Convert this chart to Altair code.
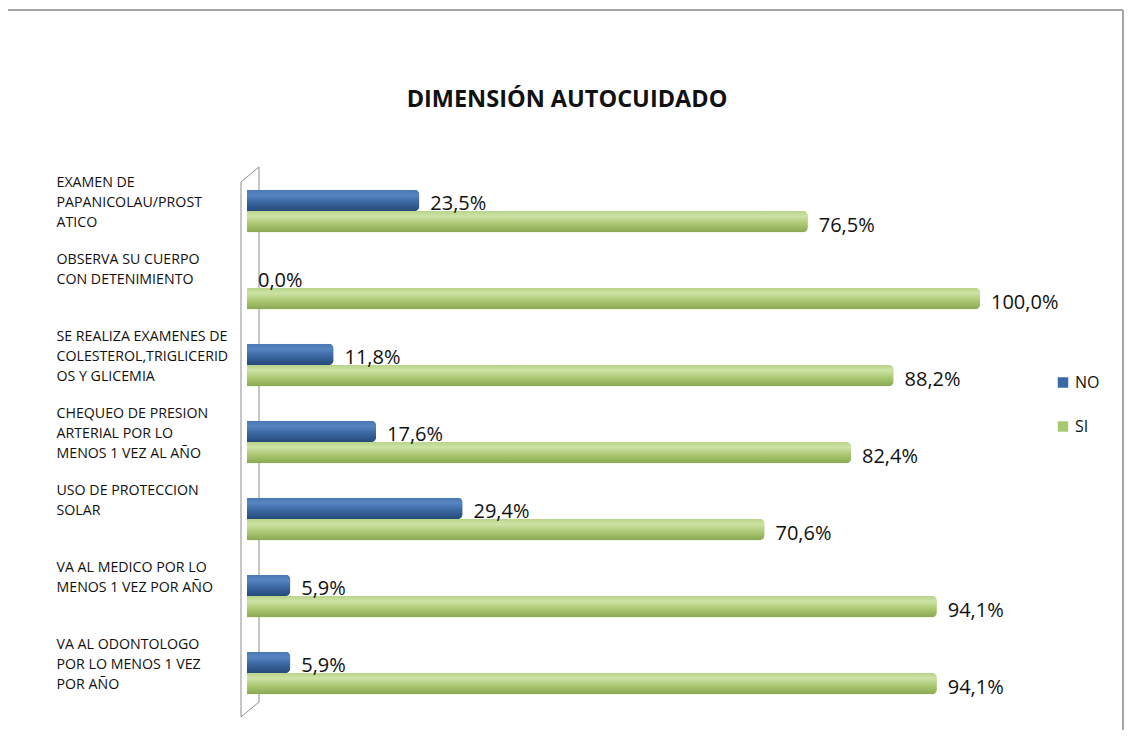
import altair as alt
import pandas as pd

titulo = "DIMENSIÓN AUTOCUIDADO"
categorias = [
    "EXAMEN DE\nPAPANICOLAU/PROST\nATICO",
    "OBSERVA SU CUERPO\nCON DETENIMIENTO",
    "SE REALIZA EXAMENES DE\nCOLESTEROL,TRIGLICERID\nOS Y GLICEMIA",
    "CHEQUEO DE PRESION\nARTERIAL POR LO\nMENOS 1 VEZ AL AÑO",
    "USO  DE  PROTECCION\nSOLAR",
    "VA AL MEDICO POR LO\nMENOS 1 VEZ POR AÑO",
    "VA AL ODONTOLOGO\nPOR LO MENOS 1 VEZ\nPOR AÑO",
]
series = ["NO", "SI"]
valores_no = [23.5, 0.0, 11.8, 17.6, 29.4, 5.9, 5.9]
valores_si = [76.5, 100.0, 88.2, 82.4, 70.6, 94.1, 94.1]

rows = []
for c, n, s in zip(categorias, valores_no, valores_si):
    rows.append({"cat": c, "serie": "NO", "v": n})
    rows.append({"cat": c, "serie": "SI", "v": s})
df = pd.DataFrame(rows)

FONT = "Open Sans"
W, H = 733, 539

y_enc = alt.Y(
    "cat:N",
    sort=categorias,
    scale=alt.Scale(paddingInner=0.45, paddingOuter=0.225),
    axis=alt.Axis(
        title=None, domain=False, ticks=False, grid=False,
        labelExpr="split(datum.label, '\\n')",
        labelAlign="left", labelBaseline="middle", labelPadding=191,
        labelLimit=260, labelFont=FONT, labelFontSize=14.2,
        labelLineHeight=20, labelOffset=-28, labelColor="#111111",
    ),
)
x_enc = alt.X("v:Q", scale=alt.Scale(domain=[0, 100]), axis=None)
yoff = alt.YOffset("serie:N", scale=alt.Scale(domain=series))

base = alt.Chart(df)

solid = base.mark_bar(cornerRadiusEnd=5).encode(
    x=x_enc, y=y_enc, yOffset=yoff,
    color=alt.Color(
        "serie:N",
        scale=alt.Scale(domain=series, range=["#3A6AA5", "#A8C872"]),
        legend=alt.Legend(
            title=None, orient="none", legendX=808, legendY=202,
            symbolType="square", symbolSize=110, labelFont=FONT,
            labelFontSize=16, rowPadding=28, labelColor="#111111",
            symbolStrokeWidth=0,
        ),
    ),
)

grad_no = alt.Gradient(
    gradient="linear", x1=0, y1=0, x2=0, y2=1,
    stops=[
        alt.GradientStop(color="#4A78B4", offset=0),
        alt.GradientStop(color="#5685C2", offset=0.25),
        alt.GradientStop(color="#3A669F", offset=0.6),
        alt.GradientStop(color="#264A7A", offset=1),
    ],
)
grad_si = alt.Gradient(
    gradient="linear", x1=0, y1=0, x2=0, y2=1,
    stops=[
        alt.GradientStop(color="#B9D48A", offset=0),
        alt.GradientStop(color="#CDE2A5", offset=0.25),
        alt.GradientStop(color="#ABC873", offset=0.6),
        alt.GradientStop(color="#8AA852", offset=1),
    ],
)

over_no = base.transform_filter(alt.datum.serie == "NO").mark_bar(
    cornerRadiusEnd=5, color=grad_no
).encode(x=x_enc, y=y_enc, yOffset=yoff)
over_si = base.transform_filter(alt.datum.serie == "SI").mark_bar(
    cornerRadiusEnd=5, color=grad_si
).encode(x=x_enc, y=y_enc, yOffset=yoff)

labels = base.transform_calculate(
    lab="replace(format(datum.v, '.1f'), '.', ',') + '%'"
).mark_text(
    align="left", baseline="middle", dx=11, dy=4, font=FONT, fontSize=20,
    color="#111111",
).encode(x=x_enc, y=y_enc, yOffset=yoff, text="lab:N")

title_mark = alt.Chart(alt.Data(values=[{"t": titulo}])).mark_text(
    font=FONT, fontSize=23.5, fontWeight="bold", align="center",
    baseline="middle", color="#111111",
).encode(x=alt.value(320), y=alt.value(-72.5), text="t:N")


def line(x1, y1, x2, y2, color="#8C8C8C", width=1):
    return alt.Chart(alt.Data(values=[{}])).mark_rule(
        color=color, strokeWidth=width, clip=False
    ).encode(
        x=alt.value(x1), y=alt.value(y1), x2=alt.value(x2), y2=alt.value(y2)
    )


wall = [
    line(-6, 9.5, -6, 544.5),
    line(12, -5.5, 12, 529.5),
    line(-6, 9.5, 12, -5.5),
    line(-6, 544.5, 12, 529.5),
]
border = [
    line(-240, -162.5, 876, -162.5, "#A6A6A6", 2),
    line(-240, -162.5, -240, 570, "#A6A6A6", 2),
    line(876, -162.5, 876, 570, "#A6A6A6", 2),
]

chart = alt.layer(
    *wall, *border, solid, over_no, over_si, labels, title_mark
).properties(
    width=W, height=H,
    background="white",
    autosize=alt.AutoSizeParams(type="none"),
    padding={"left": 239, "top": 164.5, "right": 144, "bottom": 18.5},
).configure_view(strokeWidth=0, stroke="transparent")

chart.save("out.html", embed_options={"renderer": "svg", "actions": False})
